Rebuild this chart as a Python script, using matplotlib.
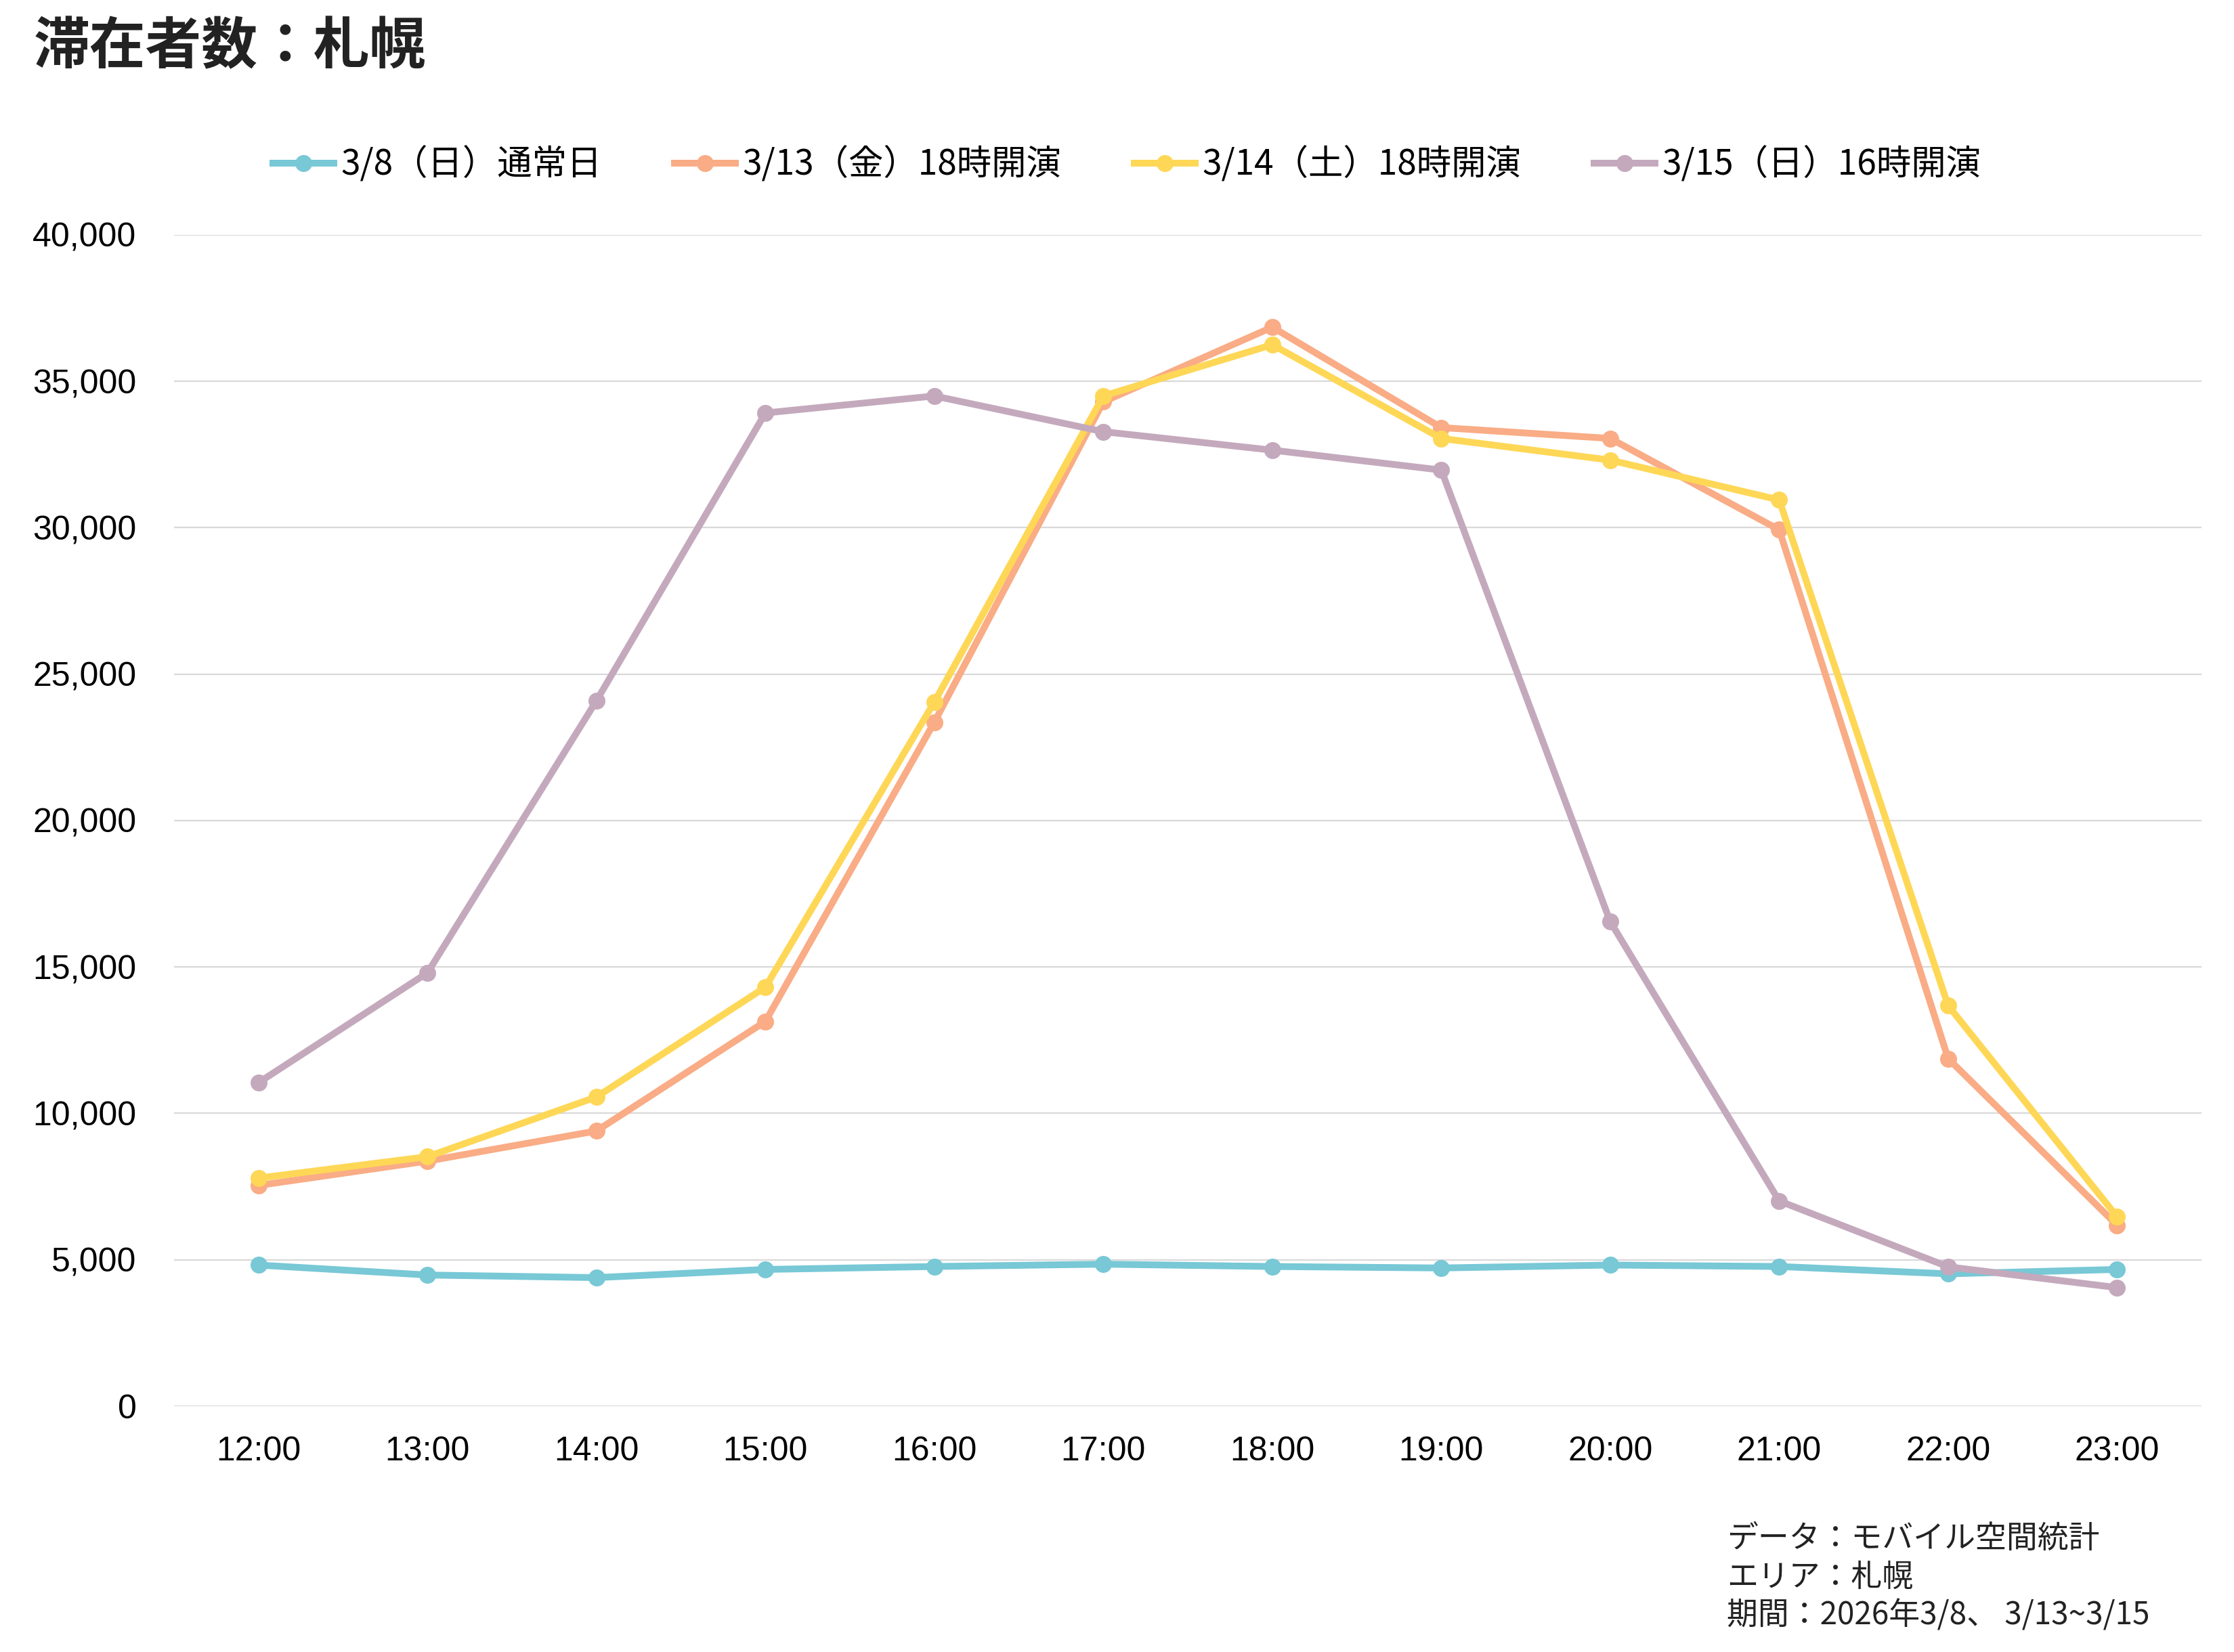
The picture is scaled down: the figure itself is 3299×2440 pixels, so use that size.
import matplotlib
matplotlib.use("Agg")
import matplotlib.pyplot as plt
from matplotlib.ticker import FuncFormatter

hours = ["12:00", "13:00", "14:00", "15:00", "16:00", "17:00",
         "18:00", "19:00", "20:00", "21:00", "22:00", "23:00"]

labels = ["3/8（日）通常日", "3/13（金）18時開演", "3/14（土）18時開演", "3/15（日）16時開演"]

s_0308 = [4820, 4480, 4390, 4670, 4770, 4850, 4770, 4720, 4820, 4770, 4520, 4670]
s_0313 = [7540, 8370, 9400, 13140, 23360, 34300, 36850, 33420, 33050, 29930, 11870, 6180]
s_0314 = [7790, 8520, 10560, 14310, 24050, 34500, 36250, 33050, 32310, 30950, 13680, 6470]
s_0315 = [11050, 14800, 24090, 33920, 34500, 33280, 32650, 31970, 16550, 7010, 4760, 4050]

colors = ["#78C8D6", "#F9AC85", "#FED756", "#C4A9BD"]

title = "滞在者数：札幌"
footer = "データ：モバイル空間統計\nエリア：札幌\n期間：2026年3/8、 3/13~3/15"

CJK = ["Noto Sans CJK JP", "DejaVu Sans"]
LAT = ["Liberation Sans", "DejaVu Sans"]

fig = plt.figure(figsize=(3299 / 200, 2440 / 200), dpi=200)
ax = fig.add_axes([0.0779, 0.1488, 0.9076, 0.709])

x = list(range(len(hours)))
for series, lab, c in zip([s_0308, s_0313, s_0314, s_0315], labels, colors):
    ax.plot(x, series, color=c, lw=3.6, marker="o", ms=8, label=lab,
            solid_joinstyle="round", clip_on=False)

ax.set_xlim(-0.5, len(hours) - 0.5)
ax.set_ylim(0, 40000)
ax.set_yticks(range(0, 40001, 5000))
ax.yaxis.set_major_formatter(FuncFormatter(lambda v, p: f"{int(v):,}"))
ax.set_xticks(x)
ax.set_xticklabels(hours)

for sp in ax.spines.values():
    sp.set_visible(False)
ax.grid(axis="y", color="#D9D9D9", lw=0.8)
ax.set_axisbelow(True)
ax.tick_params(axis="both", length=0, labelsize=18, colors="#000000")
ax.tick_params(axis="y", pad=20)
ax.tick_params(axis="x", pad=16)
for t in ax.get_xticklabels() + ax.get_yticklabels():
    t.set_fontfamily(LAT)

fig.text(0.0152, 0.989, title, fontsize=29.8, fontweight="bold", family=CJK,
         color="#222222", ha="left", va="top")

leg = fig.legend(loc="center", bbox_to_anchor=(0.5045, 0.9), ncol=4, frameon=False,
                 prop={"family": CJK, "size": 18.5}, handlelength=1.75,
                 handletextpad=0.2, columnspacing=2.1)

fig.text(0.773, 0.0785, footer, fontsize=16.5, family=CJK, color="#222222",
         ha="left", va="top", linespacing=1.22)

fig.savefig("out.png", dpi=200, facecolor="white")
